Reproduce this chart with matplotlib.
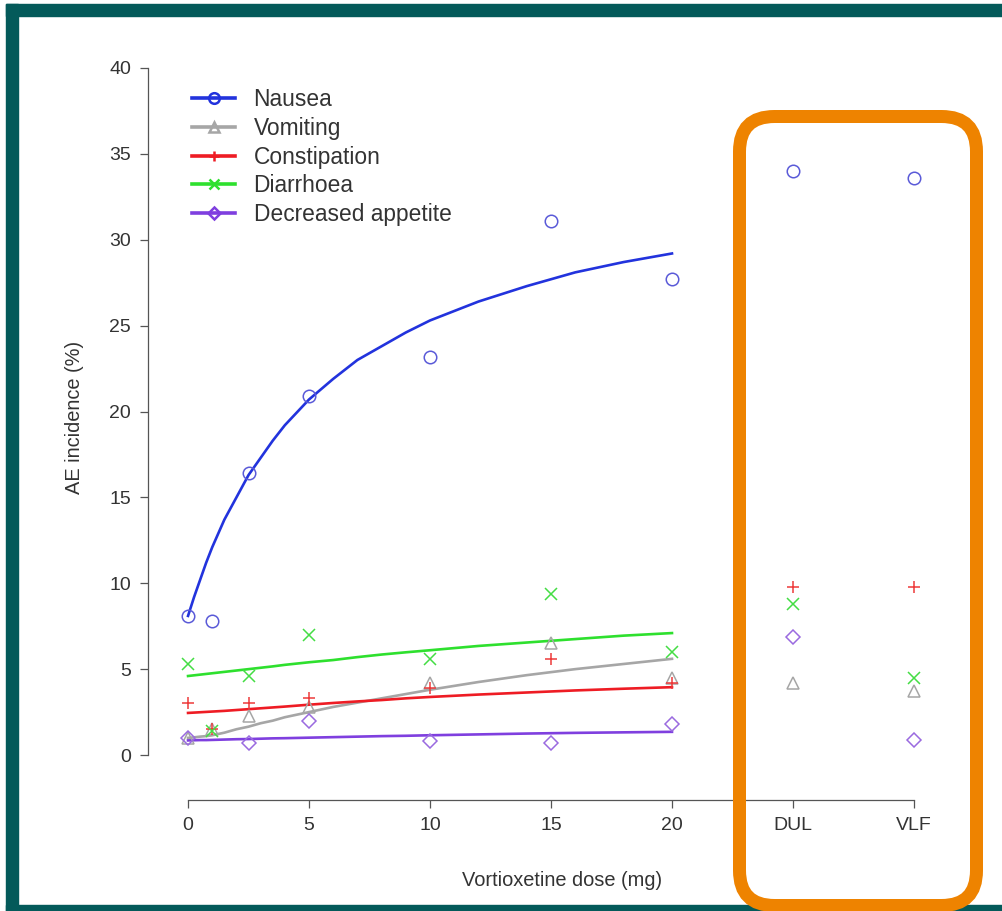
import matplotlib
matplotlib.use('Agg')
import matplotlib.pyplot as plt
import numpy as np
from matplotlib.lines import Line2D
from matplotlib.patches import FancyBboxPatch, Rectangle

plt.rcParams['font.family'] = ['Liberation Sans', 'DejaVu Sans']

# observed incidence (%) by dose; DUL and VLF sit at positions 25 and 30
doses = [0, 1, 2.5, 5, 10, 15, 20]
comparators = ['DUL', 'VLF']
comp_pos = [25, 30]

nausea = [8.1, 7.8, 16.4, 20.9, 23.2, 31.1, 27.7]
vomiting = [1.0, 1.5, 2.3, 2.8, 4.2, 6.5, 4.5]
constipation = [3.0, 1.5, 3.0, 3.3, 3.9, 5.6, 4.2]
diarrhoea = [5.3, 1.4, 4.6, 7.0, 5.6, 9.4, 6.0]
appetite = [1.0, np.nan, 0.7, 2.0, 0.8, 0.7, 1.8]

nausea_comp = [34.0, 33.6]
vomiting_comp = [4.2, 3.7]
constipation_comp = [9.8, 9.8]
diarrhoea_comp = [8.8, 4.5]
appetite_comp = [6.9, 0.9]

# fitted dose-response curves
curve_doses = [0, 0.25, 0.5, 0.75, 1, 1.5, 2, 2.5, 3, 3.5, 4, 5, 6, 7, 8, 9, 10,
               12, 14, 16, 18, 20]
nausea_fit = [8.1, 9.2, 10.2, 11.2, 12.1, 13.7, 15.0, 16.3, 17.3, 18.3, 19.2, 20.7,
              21.9, 23.0, 23.8, 24.6, 25.3, 26.4, 27.3, 28.1, 28.7, 29.2]
vomiting_fit = [1.0, 1.03, 1.07, 1.1, 1.15, 1.3, 1.5, 1.65, 1.85, 2.0, 2.2, 2.5,
                2.8, 3.05, 3.3, 3.55, 3.8, 4.25, 4.65, 5.0, 5.3, 5.6]
constipation_fit = [2.45, 2.47, 2.49, 2.51, 2.53, 2.57, 2.62, 2.67, 2.72, 2.77, 2.82, 2.93,
                    3.03, 3.12, 3.2, 3.3, 3.38, 3.52, 3.64, 3.76, 3.86, 3.95]
diarrhoea_fit = [4.6, 4.64, 4.68, 4.72, 4.76, 4.84, 4.92, 5.0, 5.08, 5.16, 5.25, 5.4,
                 5.53, 5.7, 5.85, 5.98, 6.1, 6.35, 6.55, 6.75, 6.95, 7.1]
appetite_fit = [0.85, 0.86, 0.87, 0.87, 0.88, 0.9, 0.92, 0.93, 0.95, 0.97, 0.98, 1.01,
                1.04, 1.07, 1.1, 1.12, 1.15, 1.2, 1.25, 1.29, 1.32, 1.35]

series = [
    ('Nausea', nausea, nausea_comp, nausea_fit, '#2233dd', '#5a5ad8', 'o'),
    ('Vomiting', vomiting, vomiting_comp, vomiting_fit, '#a6a6a6', '#a6a6a6', '^'),
    ('Constipation', constipation, constipation_comp, constipation_fit, '#ee1c24', '#ee3a3a', '+'),
    ('Diarrhoea', diarrhoea, diarrhoea_comp, diarrhoea_fit, '#2ee02e', '#44dd44', 'x'),
    ('Decreased appetite', appetite, appetite_comp, appetite_fit, '#7f3fdf', '#9a6ae0', 'D'),
]

W, H = 1002, 911
fig = plt.figure(figsize=(W / 100, H / 100), dpi=100)
fig.patch.set_facecolor('white')
ax = fig.add_axes([159 / W, 1 - 782.5 / H, (943 - 159) / W, (782.5 - 40.5) / H])
ax.set_xlim(-1.2, 31.2)
ax.set_ylim(-1.6, 41.6)

handles = []
for name, obs, comp, fit, lc, mc, mk in series:
    ms = 7.5 if mk == 'D' else 9
    ax.plot(curve_doses, fit, color=lc, lw=1.9, zorder=2, solid_joinstyle='round')
    ax.plot(doses + comp_pos, obs + comp, ls='none', marker=mk, ms=ms,
            mfc='none', mec=mc, mew=1.1, zorder=3)
    handles.append(Line2D([], [], color=lc, lw=2.6, marker=mk, ms=ms * 0.85,
                          mfc='none', mec=lc, mew=1.8, label=name))

# R-style detached axes
for s in ['top', 'right']:
    ax.spines[s].set_visible(False)
ax.spines['left'].set_position(('outward', 8))
ax.spines['bottom'].set_position(('outward', 12.6))
ax.spines['left'].set_bounds(0, 40)
ax.spines['bottom'].set_bounds(0, 30)
for s in ['left', 'bottom']:
    ax.spines[s].set_color('#555555')
    ax.spines[s].set_linewidth(0.9)

ax.set_yticks(range(0, 41, 5))
ax.set_xticks([0, 5, 10, 15, 20] + comp_pos)
ax.set_xticklabels(['0', '5', '10', '15', '20'] + comparators)
ax.tick_params(length=6, width=0.9, color='#555555', labelsize=14,
               labelcolor='#333333', pad=6)

ax.legend(handles=handles, loc='upper left', bbox_to_anchor=(192 / W, 1 - 88 / H),
          bbox_transform=fig.transFigure, frameon=False, fontsize=16.4,
          handlelength=1.9, handletextpad=0.8, labelspacing=0.255,
          borderaxespad=0, borderpad=0, labelcolor='#333333')

fig.text(75 / W, 1 - 417 / H, 'AE incidence (%)', rotation=90, ha='center', va='center',
         fontsize=14.4, color='#333333')
fig.text(562 / W, 1 - 880 / H, 'Vortioxetine dose (mg)', ha='center', va='center',
         fontsize=14.4, color='#333333')

# frame decorations
teal = '#045a5a'
fig.patches.append(Rectangle((6 / W, 1 - 16 / H), 1 - 6 / W, 12 / H, transform=fig.transFigure,
                             color=teal, zorder=10))
fig.patches.append(Rectangle((6 / W, 0), 12 / W, 1 - 4 / H, transform=fig.transFigure,
                             color=teal, zorder=10))
fig.patches.append(Rectangle((6 / W, 0), 1 - 6 / W, 6 / H, transform=fig.transFigure,
                             color=teal, zorder=10))

# orange highlight box, pixel coordinates converted to display (bottom-left origin)
box = FancyBboxPatch((739.5 + 35, H - 905.5 + 35), 976.5 - 739.5 - 70, 905.5 - 116.5 - 70,
                     boxstyle='round,pad=35', transform=None, fill=False,
                     ec='#ee8300', lw=13 * 0.72, zorder=11)
fig.patches.append(box)

fig.savefig('out.png', dpi=100, facecolor='white')
